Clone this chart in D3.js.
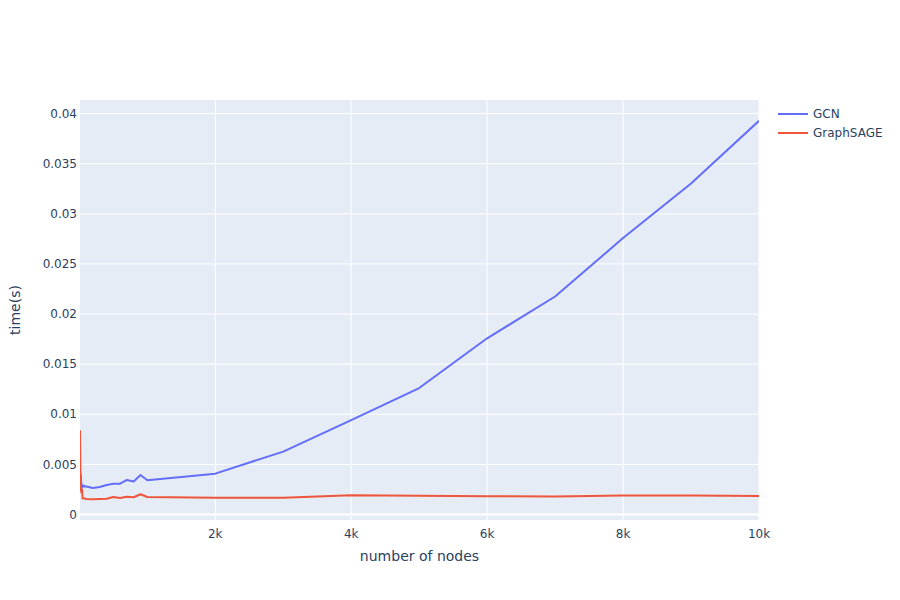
<!DOCTYPE html>
<html>
<head>
<meta charset="utf-8">
<script src="https://cdn.jsdelivr.net/npm/d3@7"></script>
<style>
  body { margin: 0; background: #fff; }
  svg text { font-family: "DejaVu Sans", Verdana, sans-serif; fill: #2a3f5f; }
</style>
</head>
<body>
<div id="chart"></div>
<script>
// number of nodes per run
const nodes = [10, 20, 30, 40, 50, 60, 70, 80, 90,
  100, 200, 300, 400, 500, 600, 700, 800, 900, 1000,
  2000, 3000, 4000, 5000, 6000, 7000, 8000, 9000, 10000];

// time(s) per run
const gcnTime = [0.0026, 0.0040, 0.0030, 0.0027, 0.0029, 0.0028, 0.0029, 0.0028, 0.0028,
  0.0028, 0.00265, 0.00275, 0.00295, 0.00308, 0.00308, 0.00345, 0.0033, 0.00395, 0.00342,
  0.00408, 0.00628, 0.00942, 0.01262, 0.01758, 0.02175, 0.02758, 0.03302, 0.03928];

const sageTime = [0.0084, 0.0027, 0.0022, 0.0025, 0.0016, 0.0016, 0.0016, 0.0016, 0.0016,
  0.00155, 0.00153, 0.00155, 0.00158, 0.00175, 0.00165, 0.00178, 0.00172, 0.00202, 0.00175,
  0.00168, 0.00168, 0.00192, 0.00187, 0.00182, 0.0018, 0.0019, 0.0019, 0.00185];

const seriesNames = ["GCN", "GraphSAGE"];
const seriesColors = ["#636efa", "#EF553B"];

const xTicks = [2000, 4000, 6000, 8000, 10000];
const xTickLabels = ["2k", "4k", "6k", "8k", "10k"];
const yTicks = [0, 0.005, 0.01, 0.015, 0.02, 0.025, 0.03, 0.035, 0.04];
const yTickLabels = ["0", "0.005", "0.01", "0.015", "0.02", "0.025", "0.03", "0.035", "0.04"];

const width = 900, height = 600;
const margin = {left: 80, right: 141, top: 100, bottom: 80};
const plotW = width - margin.left - margin.right;
const plotH = height - margin.top - margin.bottom;

const svg = d3.select("#chart").append("svg")
  .attr("width", width)
  .attr("height", height);

const series = [gcnTime, sageTime];

const allY = gcnTime.concat(sageTime);
const yMin = d3.min(allY), yMax = d3.max(allY);
const pad = (yMax - yMin) * 0.055;

const x = d3.scaleLinear()
  .domain(d3.extent(nodes))
  .range([margin.left, margin.left + plotW]);

const y = d3.scaleLinear()
  .domain([yMin - pad, yMax + pad])
  .range([margin.top + plotH, margin.top]);

// background
svg.append("rect")
  .attr("x", margin.left)
  .attr("y", margin.top)
  .attr("width", plotW)
  .attr("height", plotH)
  .attr("fill", "#E5ECF6");

// grid
svg.append("g").selectAll("line")
  .data(xTicks)
  .enter().append("line")
  .attr("x1", d => x(d)).attr("x2", d => x(d))
  .attr("y1", margin.top).attr("y2", margin.top + plotH)
  .attr("stroke", "#fff").attr("stroke-width", 1);

svg.append("g").selectAll("line")
  .data(yTicks)
  .enter().append("line")
  .attr("x1", margin.left).attr("x2", margin.left + plotW)
  .attr("y1", d => y(d)).attr("y2", d => y(d))
  .attr("stroke", "#fff")
  .attr("stroke-width", d => d === 0 ? 2 : 1);

// tick labels
svg.append("g").selectAll("text")
  .data(xTicks)
  .enter().append("text")
  .attr("x", d => x(d))
  .attr("y", margin.top + plotH + 18)
  .attr("text-anchor", "middle")
  .attr("font-size", 12)
  .text((d, i) => xTickLabels[i]);

svg.append("g").selectAll("text")
  .data(yTicks)
  .enter().append("text")
  .attr("x", margin.left - 3)
  .attr("y", d => y(d))
  .attr("dy", "0.35em")
  .attr("text-anchor", "end")
  .attr("font-size", 12)
  .text((d, i) => yTickLabels[i]);

// axis titles
svg.append("text")
  .attr("x", margin.left + plotW / 2)
  .attr("y", margin.top + plotH + 41)
  .attr("text-anchor", "middle")
  .attr("font-size", 14)
  .text("number of nodes");

svg.append("text")
  .attr("transform", "translate(20," + (margin.top + plotH / 2) + ") rotate(-90)")
  .attr("text-anchor", "middle")
  .attr("font-size", 14)
  .text("time(s)");

// lines
const line = d3.line()
  .x((d, i) => x(nodes[i]))
  .y(d => y(d));

svg.append("defs").append("clipPath").attr("id", "clip")
  .append("rect")
  .attr("x", margin.left).attr("y", margin.top)
  .attr("width", plotW).attr("height", plotH);

svg.append("g").attr("clip-path", "url(#clip)")
  .selectAll("path")
  .data(series)
  .enter().append("path")
  .attr("d", line)
  .attr("fill", "none")
  .attr("stroke", (d, i) => seriesColors[i])
  .attr("stroke-width", 2)
  .attr("stroke-linejoin", "round");

// legend
const legend = svg.append("g")
  .attr("transform", "translate(" + (margin.left + plotW + 19) + "," + (margin.top + 14) + ")");

const items = legend.selectAll("g")
  .data(seriesNames)
  .enter().append("g")
  .attr("transform", (d, i) => "translate(0," + i * 19 + ")");

items.append("line")
  .attr("x1", 0).attr("x2", 30)
  .attr("y1", 0).attr("y2", 0)
  .attr("stroke", (d, i) => seriesColors[i])
  .attr("stroke-width", 2);

items.append("text")
  .attr("x", 35)
  .attr("y", 0)
  .attr("dy", "0.35em")
  .attr("font-size", 12)
  .text(d => d);
</script>
</body>
</html>
